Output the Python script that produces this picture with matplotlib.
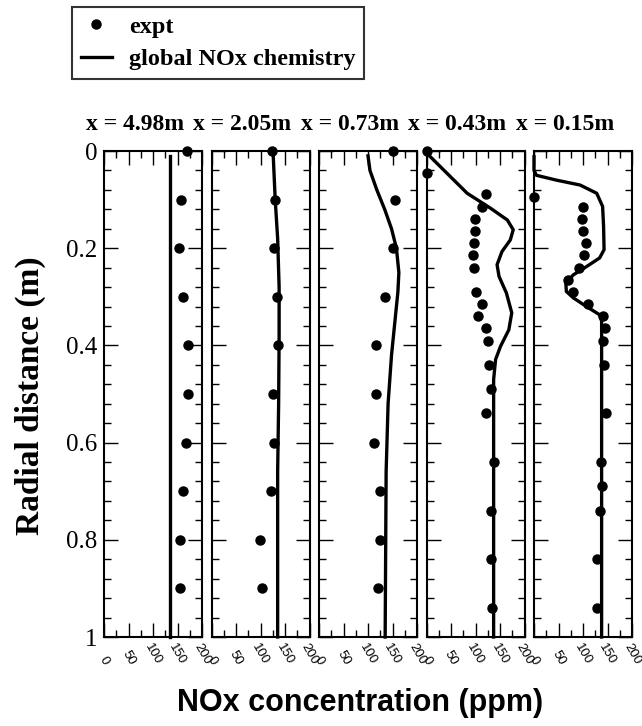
import matplotlib
matplotlib.use("Agg")
import matplotlib.pyplot as plt
from matplotlib.lines import Line2D
import numpy as np

# stations (axial distance)
titulos = ["x = 4.98m", "x = 2.05m", "x = 0.73m", "x = 0.43m", "x = 0.15m"]

# expt points: radial distance (m) and NOx (ppm)
r_exp_1 = [0, 0.1, 0.2, 0.3, 0.4, 0.5, 0.6, 0.7, 0.8, 0.9]
nox_exp_1 = [169, 157, 153, 161, 171, 171, 167, 161, 155, 156]
r_exp_2 = [0, 0.1, 0.2, 0.3, 0.4, 0.5, 0.6, 0.7, 0.8, 0.9]
nox_exp_2 = [123, 130, 128, 134, 135, 126, 127, 121, 98, 103]
r_exp_3 = [0, 0.1, 0.2, 0.3, 0.4, 0.5, 0.6, 0.7, 0.8, 0.9]
nox_exp_3 = [150, 156, 151, 134, 116, 116, 112, 124, 125, 120]
r_exp_4 = [0, 0.045, 0.089, 0.116, 0.14, 0.164, 0.19, 0.215, 0.24, 0.29, 0.315,
           0.34, 0.365, 0.39, 0.44, 0.49, 0.54, 0.64, 0.74, 0.84, 0.94]
nox_exp_4 = [1, 1, 122, 114, 99, 98, 97, 95, 97, 102, 114,
             106, 121, 125, 127, 132, 122, 138, 131, 131, 133]
r_exp_5 = [0.095, 0.116, 0.14, 0.164, 0.19, 0.215, 0.24, 0.265, 0.29, 0.315,
           0.34, 0.365, 0.39, 0.44, 0.54, 0.64, 0.69, 0.74, 0.84, 0.94]
nox_exp_5 = [0, 101, 97, 99, 106, 103, 91, 70, 80, 110,
             140, 144, 140, 142, 146, 136, 138, 134, 128, 128]

# global NOx chemistry (model)
r_mod_1 = [0.01, 1.0]
nox_mod_1 = [135, 135]
r_mod_2 = [0.01, 0.1, 0.18, 0.28, 0.38, 0.52, 0.66, 1.0]
nox_mod_2 = [126, 130, 135, 138, 138, 137, 135, 135]
r_mod_3 = [0.01, 0.04, 0.08, 0.12, 0.16, 0.2, 0.25, 0.29, 0.35, 0.42, 0.52, 0.66, 1.0]
nox_mod_3 = [100, 104, 118, 134, 148, 158, 163, 161, 155, 148, 141, 137, 135]
r_mod_4 = [0.004, 0.046, 0.087, 0.118, 0.142, 0.162, 0.183, 0.207, 0.234, 0.258,
           0.292, 0.333, 0.368, 0.402, 0.429, 0.47, 1.0]
nox_mod_4 = [0, 42, 83, 131, 165, 177, 171, 154, 144, 148,
             163, 174, 168, 151, 141, 137, 137]
r_mod_5 = [0.012, 0.04, 0.05, 0.06, 0.07, 0.087, 0.114, 0.155, 0.203, 0.22,
           0.238, 0.255, 0.272, 0.289, 0.302, 0.32, 0.337, 0.35, 1.0]
nox_mod_5 = [0, 0, 5, 46, 94, 128, 140, 142, 143, 134,
             107, 80, 65, 66, 80, 107, 134, 138, 138]

r_exp = [r_exp_1, r_exp_2, r_exp_3, r_exp_4, r_exp_5]
nox_exp = [nox_exp_1, nox_exp_2, nox_exp_3, nox_exp_4, nox_exp_5]
r_mod = [r_mod_1, r_mod_2, r_mod_3, r_mod_4, r_mod_5]
nox_mod = [nox_mod_1, nox_mod_2, nox_mod_3, nox_mod_4, nox_mod_5]

SERIF = "Liberation Serif"
SANS = "Liberation Sans"

W, H = 642, 726
fig = plt.figure(figsize=(W / 100, H / 100), dpi=100)


def caja(x, y, w, h):
    return [x / W, 1 - (y + h) / H, w / W, h / H]


izq = [104, 211.5, 319, 426.5, 534]
arriba, abajo, ancho = 151, 637, 98

for i in range(5):
    ax = fig.add_axes(caja(izq[i], arriba, ancho, abajo - arriba))
    ax.plot(nox_mod[i], r_mod[i], color="k", lw=2.4, clip_on=False, zorder=3)
    ax.plot(nox_exp[i], r_exp[i], "o", color="k", ms=6.5, clip_on=False, zorder=5)
    ax.set_xlim(0, 200)
    ax.set_ylim(1, 0)
    ax.set_xticks([0, 50, 100, 150, 200])
    ax.set_xticks([25, 75, 125, 175], minor=True)
    ax.set_yticks([0, 0.2, 0.4, 0.6, 0.8, 1.0])
    ax.set_yticks(np.arange(0.04, 1.0, 0.04), minor=True)
    ax.tick_params(which="both", direction="in", top=True, right=True, width=1)
    ax.tick_params(which="major", length=10, pad=5)
    ax.tick_params(which="minor", length=5)
    # rotated labels hang from a common baseline, like the original
    ax.tick_params(axis="x", which="major", pad=21.5)
    ax.set_xticklabels(["0", "50", "100", "150", "200"], rotation=-60, ha="center",
                       va="bottom", fontsize=9.5, family=SANS)
    if i == 0:
        ax.set_yticklabels(["0", "0.2", "0.4", "0.6", "0.8", "1"], fontsize=18, family=SERIF)
    else:
        ax.set_yticklabels([])
    for s in ax.spines.values():
        s.set_linewidth(1.5)
    fig.text((izq[i] + ancho / 2 - 18) / W, 1 - 130 / H, titulos[i], ha="center",
             va="baseline", fontsize=17, fontweight="bold", family=SERIF)

fig.text(30 / W, 1 - 396 / H, "Radial distance (m)", rotation=90, ha="center", va="center",
         fontsize=24, fontweight="bold", family=SERIF)
fig.text(360 / W, 1 - 703 / H, "NOx concentration (ppm)", ha="center", va="center",
         fontsize=22, fontweight="bold", family=SANS)

h1 = Line2D([], [], marker="o", ls="none", color="k", ms=6.5)
h2 = Line2D([], [], color="k", lw=2.4)
leg = fig.legend([h1, h2], ["expt", "global NOx chemistry"], loc="upper left",
                 bbox_to_anchor=(72 / W, 1 - 7 / H), frameon=True, fancybox=False,
                 edgecolor="black", borderaxespad=0, handlelength=1.3, handletextpad=0.7,
                 borderpad=0.35, labelspacing=0.45,
                 prop={"family": SERIF, "weight": "bold", "size": 17.5})
leg.get_frame().set_linewidth(1.5)

fig.savefig("out.png", dpi=100)
